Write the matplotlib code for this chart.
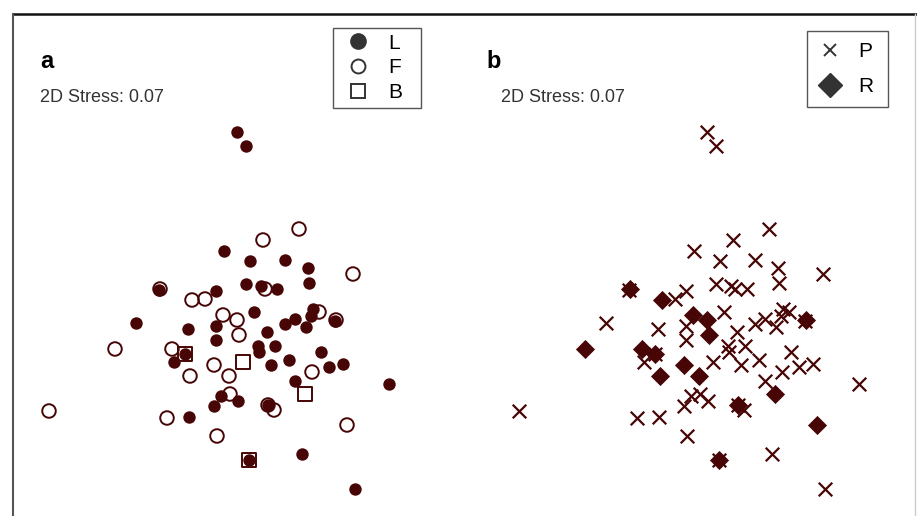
import matplotlib
matplotlib.use("Agg")
import numpy as np
import matplotlib.pyplot as plt
from matplotlib.lines import Line2D

# NMDS coordinates (same ordination shown in both panels)
nmds_x = [-0.13, -0.04, -0.26, 0.00, 0.35, 0.58, 1.03, 0.49, 0.13, -0.91,
          -0.90, -0.04, 0.11, 0.15, 0.27, 0.59, -0.58, -0.45, -0.34, -1.14,
          -0.62, -0.27, -0.13, 0.04, -0.34, -0.34, -0.11, 0.17, 0.35, 0.45,
          0.56, 0.61, 0.63, 0.69, 0.85, 0.86, -1.35, -0.78, -0.65, -0.65,
          -0.76, -0.60, -0.36, -0.21, -0.07, 0.08, 0.09, 0.25, 0.21, 0.39,
          0.71, 0.62, 0.79, 0.93, 0.45, 0.55, 1.39, -2.01, -0.29, -0.20,
          -0.12, -0.36, 0.18, 0.18, 0.24, -0.83, -0.61, -0.33, 0.97, -0.01,
          -0.01, 0.52, 1.05]
nmds_y = [1.98, 1.84, 0.79, 0.69, 0.70, 0.62, 0.56, 1.01, 0.90, 0.40,
          0.41, 0.46, 0.44, 0.41, 0.41, 0.47, 0.30, 0.31, 0.39, 0.07,
          0.01, 0.15, 0.10, 0.18, 0.04, -0.10, -0.05, -0.02, 0.06, 0.11,
          0.03, 0.14, 0.21, 0.18, 0.09, 0.10, -0.19, -0.19, -0.24, -0.24,
          -0.32, -0.46, -0.35, -0.46, -0.32, -0.16, -0.22, -0.16, -0.35, -0.30,
          -0.22, -0.42, -0.37, -0.34, -0.51, -0.64, -0.54, -0.81, -0.66, -0.64,
          -0.71, -0.76, -0.75, -0.75, -0.80, -0.88, -0.87, -1.06, -0.95, -1.30,
          -1.30, -1.24, -1.59]
# panel a grouping
tissue = ["L", "L", "L", "L", "L", "L", "F", "F", "F", "L",
          "F", "L", "L", "F", "L", "L", "F", "F", "L", "L",
          "L", "F", "F", "L", "L", "L", "F", "L", "L", "L",
          "L", "L", "L", "F", "L", "F", "F", "F", "L", "B",
          "L", "F", "F", "F", "B", "L", "L", "L", "L", "L",
          "L", "F", "L", "L", "L", "B", "L", "F", "L", "F",
          "L", "L", "L", "F", "F", "F", "L", "F", "F", "L",
          "B", "L", "L"]
# panel b grouping
site = ["P", "P", "P", "P", "P", "P", "P", "P", "P", "P",
        "R", "P", "P", "P", "P", "P", "R", "P", "P", "P",
        "P", "R", "R", "P", "P", "P", "R", "P", "P", "P",
        "P", "P", "P", "P", "P", "R", "R", "R", "P", "R",
        "P", "R", "R", "R", "P", "P", "P", "P", "P", "P",
        "P", "P", "P", "P", "P", "R", "P", "P", "P", "P",
        "P", "P", "P", "R", "P", "P", "P", "P", "R", "P",
        "R", "P", "P"]
stress = 0.07

W, H = 917, 516
pt_color = "#470505"
leg_color = "#333333"

x = np.array(nmds_x)
y = np.array(nmds_y)
tissue = np.array(tissue)
site = np.array(site)

fig = plt.figure(figsize=(W / 100, H / 100), dpi=100)
plt.rcParams["font.family"] = ["Liberation Sans", "DejaVu Sans"]

ax_a = fig.add_axes([13 / W, 0, 445 / W, 502 / H])
ax_b = fig.add_axes([458 / W, 0, 458 / W, 502 / H])
ax_a.set_xlim(-2.37, 2.08)
ax_b.set_xlim(-2.62, 1.96)
for ax in (ax_a, ax_b):
    ax.set_ylim(-1.86, 3.16)
    ax.axis("off")

# panel a
m = tissue == "L"
ax_a.scatter(x[m], y[m], s=80, marker="o", color=pt_color, linewidths=0, zorder=2)
m = tissue == "F"
ax_a.scatter(x[m], y[m], s=95, marker="o", facecolors="none", edgecolors=pt_color,
             linewidths=1.4, zorder=3)
m = tissue == "B"
ax_a.scatter(x[m], y[m], s=95, marker="s", facecolors="none", edgecolors=pt_color,
             linewidths=1.4, zorder=4)

# panel b
m = site == "P"
ax_b.scatter(x[m], y[m], s=95, marker="x", color=pt_color, linewidths=1.6, zorder=2)
m = site == "R"
ax_b.scatter(x[m], y[m], s=95, marker="D", color=pt_color, linewidths=0, zorder=3)

# legends
h_a = [
    Line2D([], [], ls="", marker="o", ms=11, color=leg_color),
    Line2D([], [], ls="", marker="o", ms=10, mfc="none", mec=leg_color, mew=1.4),
    Line2D([], [], ls="", marker="s", ms=10, mfc="none", mec=leg_color, mew=1.4),
]
leg = ax_a.legend(h_a, ["L", "F", "B"], loc="upper left", mode="expand",
                  bbox_to_anchor=(333 / W, 1 - 107 / H, 88 / W, 79 / H),
                  bbox_transform=fig.transFigure, borderaxespad=0,
                  fontsize=15, labelspacing=0.27, handlelength=1.87, handletextpad=0.53,
                  borderpad=0.27, fancybox=False, framealpha=1, edgecolor="#555555")
leg.get_frame().set_linewidth(1.0)

h_b = [
    Line2D([], [], ls="", marker="x", ms=9, mew=1.4, color=leg_color),
    Line2D([], [], ls="", marker="D", ms=12, color=leg_color),
]
leg = ax_b.legend(h_b, ["P", "R"], loc="upper left", mode="expand",
                  bbox_to_anchor=(807 / W, 1 - 107 / H, 81 / W, 76 / H),
                  bbox_transform=fig.transFigure, borderaxespad=0,
                  fontsize=15, labelspacing=0.78, handlelength=1.14, handletextpad=0.8,
                  borderpad=0.53, fancybox=False, framealpha=1, edgecolor="#555555")
leg.get_frame().set_linewidth(1.0)

# panel letters and stress values
fig.text(40 / W, 1 - 62 / H, "a", fontsize=17, fontweight="bold", va="center")
fig.text(486 / W, 1 - 62 / H, "b", fontsize=17, fontweight="bold", va="center")
fig.text(40 / W, 1 - 98 / H, f"2D Stress: {stress:.2f}", fontsize=13,
         color="#333333", va="center")
fig.text(501 / W, 1 - 98 / H, f"2D Stress: {stress:.2f}", fontsize=13,
         color="#333333", va="center")

# outer frame (top, left, right)
fig.add_artist(Line2D([13 / W, 916 / W], [1 - 14 / H, 1 - 14 / H], color="#111111", lw=1.8))
fig.add_artist(Line2D([13 / W, 13 / W], [0, 1 - 14 / H], color="#555555", lw=1.5))
fig.add_artist(Line2D([915 / W, 915 / W], [0, 1 - 14 / H], color="#cccccc", lw=1.0))

fig.savefig("out.png", dpi=100)
